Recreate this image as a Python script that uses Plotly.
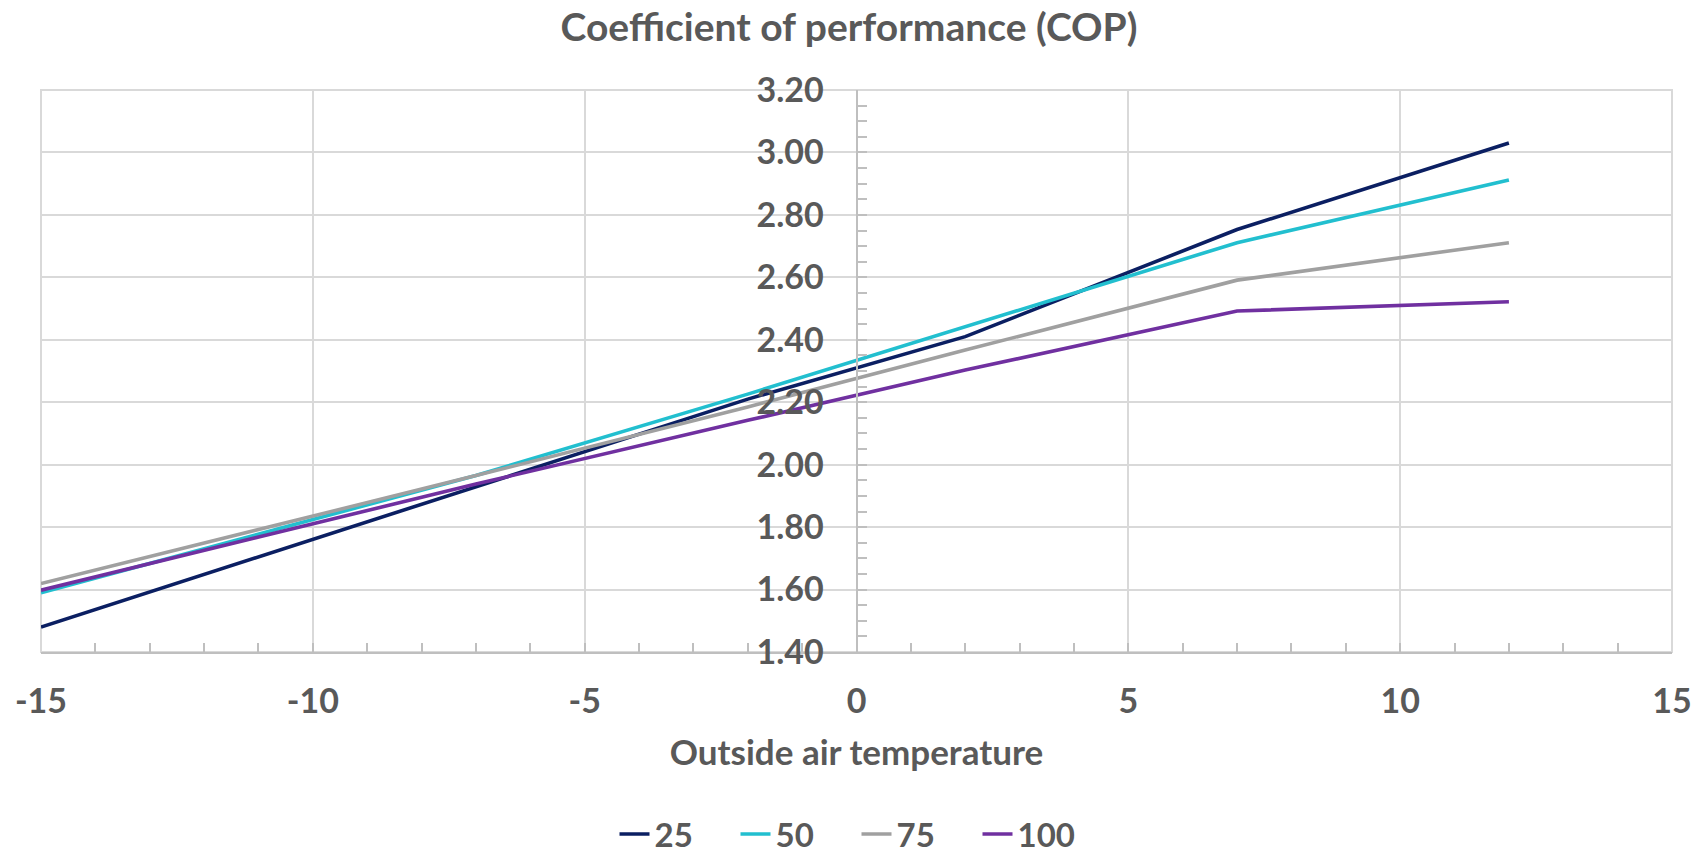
import plotly.graph_objects as go

# Data
temps = [-15, -7, -2, 2, 7, 12]
series_names = ["25", "50", "75", "100"]
cop_25 = [1.48, 1.93, 2.21, 2.41, 2.753, 3.03]
cop_50 = [1.59, 1.965, 2.226, 2.441, 2.711, 2.912]
cop_75 = [1.619, 1.965, 2.185, 2.367, 2.591, 2.711]
cop_100 = [1.598, 1.938, 2.142, 2.303, 2.492, 2.522]
colors = ["#0b1f62", "#22bfcf", "#a0a0a0", "#7030a0"]

x_ticks = [-15, -10, -5, 0, 5, 10, 15]
y_ticks = [1.4, 1.6, 1.8, 2.0, 2.2, 2.4, 2.6, 2.8, 3.0, 3.2]

FONT = "Lato"
TXT = "#595959"
GRID = "#d9d9d9"
AXIS = "#bfbfbf"

fig = go.Figure()
for name, vals, col in zip(series_names, [cop_25, cop_50, cop_75, cop_100], colors):
    fig.add_trace(go.Scatter(x=temps, y=vals, mode="lines", name=f"<b>{name}</b>",
                             line=dict(color=col, width=3.6)))

fig.update_layout(
    width=1698, height=854,
    margin=dict(l=41, r=26, t=90, b=202, autoexpand=False),
    paper_bgcolor="white", plot_bgcolor="white",
    font=dict(family=FONT, color=TXT, size=34),
    title=dict(text="<b>Coefficient of performance (COP)</b>", x=0.5, xanchor="center",
               y=1 - 27 / 854, yanchor="middle", yref="container",
               font=dict(family=FONT, size=39, color=TXT)),
    showlegend=True,
    legend=dict(orientation="h", x=0.5, xanchor="center", y=(652 - 834) / 562,
                yanchor="middle", font=dict(family=FONT, size=33, color=TXT),
                entrywidth=76, itemwidth=30),
    xaxis=dict(range=[-15, 15], tickvals=x_ticks,
               ticktext=[f"<b>{v}</b>" for v in x_ticks],
               automargin=False,
               showgrid=True, gridcolor=GRID, gridwidth=2,
               zeroline=False, showline=True, linecolor=AXIS, linewidth=2,
               mirror=False,
               ticks="inside", ticklen=9, tickcolor=AXIS, tickwidth=2,
               minor=dict(dtick=1, ticks="inside", ticklen=9, tickcolor=AXIS, tickwidth=2, showgrid=False),
               ticklabelstandoff=18,
               tickfont=dict(family=FONT, size=34, color=TXT)),
    yaxis=dict(range=[1.4, 3.2], tickvals=y_ticks,
               ticktext=[f"<b>{v:.2f}</b>" for v in y_ticks],
               anchor="free", position=0.5, automargin=False,
               showgrid=True, gridcolor=GRID, gridwidth=2,
               zeroline=False, showline=True, linecolor=AXIS, linewidth=2,
               ticks="inside", ticklen=9, tickcolor=AXIS, tickwidth=2,
               minor=dict(dtick=0.05, tick0=1.4, ticks="inside", ticklen=9, tickcolor=AXIS, tickwidth=2, showgrid=False),
               ticklabelstandoff=25,
               tickfont=dict(family=FONT, size=34, color=TXT)),
)
fig.update_xaxes(title=dict(text="<b>Outside air temperature</b>", standoff=22,
                            font=dict(family=FONT, size=35, color=TXT)))

# plot frame (top and right borders as gridlines)
fig.add_shape(type="rect", xref="paper", yref="paper", x0=0, x1=1, y0=0, y1=1,
              line=dict(color=GRID, width=2), layer="below")

fig.write_html("out.html")
